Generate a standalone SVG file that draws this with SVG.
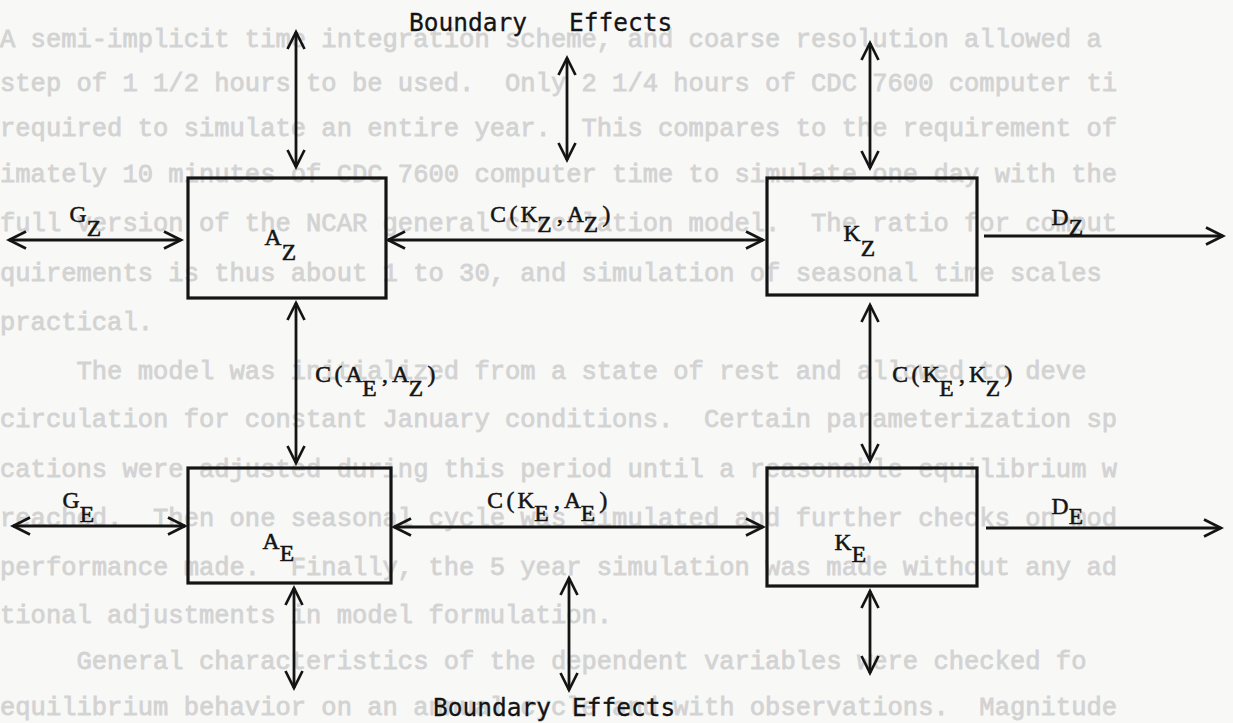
<svg xmlns="http://www.w3.org/2000/svg" width="1233" height="723" viewBox="0 0 1233 723">
  <style>
    .ghost { font-family: "Liberation Mono", "Courier New", monospace; font-size: 25.5px; fill: #d3d3d3; stroke: #d3d3d3; stroke-width: 0.8px; white-space: pre; }
    .lbl { font-family: "Liberation Serif", "Times New Roman", serif; font-size: 23.5px; text-anchor: middle; fill: #141414; stroke: #141414; stroke-width: 0.55px; }
    .bnd { font-family: "DejaVu Sans Mono", monospace; font-size: 24.5px; fill: #141414; stroke: #141414; stroke-width: 0.3px; }
    .box { fill: none; stroke: #141414; stroke-width: 3.2; }
    .con { fill: none; stroke: #141414; stroke-width: 2.8; stroke-linecap: butt; }
  </style>
  <defs>
    <marker id="ah" viewBox="-22 -12 26 24" refX="0" refY="0" markerWidth="26" markerHeight="24" markerUnits="userSpaceOnUse" orient="auto-start-reverse">
      <path d="M-17,-8.5 L0,0 L-17,8.5" fill="none" stroke="#141414" stroke-width="2.7" stroke-linejoin="miter"/>
    </marker>
  </defs>
  <rect x="0" y="0" width="1233" height="723" fill="#f8f8f7"/>

  <g id="show-through">
    <text class="ghost" x="0" y="47">A semi-implicit time integration scheme, and coarse resolution allowed a</text>
    <text class="ghost" x="0" y="91">step of 1 1/2 hours to be used.  Only 2 1/4 hours of CDC 7600 computer ti</text>
    <text class="ghost" x="0" y="136">required to simulate an entire year.  This compares to the requirement of</text>
    <text class="ghost" x="0" y="182">imately 10 minutes of CDC 7600 computer time to simulate one day with the</text>
    <text class="ghost" x="0" y="231">full version of the NCAR general circulation model.  The ratio for comput</text>
    <text class="ghost" x="0" y="281">quirements is thus about 1 to 30, and simulation of seasonal time scales</text>
    <text class="ghost" x="0" y="330">practical.</text>
    <text class="ghost" x="0" y="379">     The model was initialized from a state of rest and allowed to deve</text>
    <text class="ghost" x="0" y="427">circulation for constant January conditions.  Certain parameterization sp</text>
    <text class="ghost" x="0" y="477">cations were adjusted during this period until a reasonable equilibrium w</text>
    <text class="ghost" x="0" y="526">reached.  Then one seasonal cycle was simulated and further checks on mod</text>
    <text class="ghost" x="0" y="575">performance made.  Finally, the 5 year simulation was made without any ad</text>
    <text class="ghost" x="0" y="623">tional adjustments in model formulation.</text>
    <text class="ghost" x="0" y="669">     General characteristics of the dependent variables were checked fo</text>
    <text class="ghost" x="0" y="715">equilibrium behavior on an annual cycle and with observations.  Magnitude</text>
  </g>

  <g id="connectors">
    <line class="con" x1="296" y1="32" x2="296" y2="167" marker-start="url(#ah)" marker-end="url(#ah)"/>
    <line class="con" x1="567" y1="58" x2="567" y2="160" marker-start="url(#ah)" marker-end="url(#ah)"/>
    <line class="con" x1="870" y1="43" x2="870" y2="168" marker-start="url(#ah)" marker-end="url(#ah)"/>
    <line class="con" x1="9" y1="240" x2="181" y2="240" marker-start="url(#ah)" marker-end="url(#ah)"/>
    <line class="con" x1="388" y1="240" x2="763" y2="240" marker-start="url(#ah)" marker-end="url(#ah)"/>
    <line class="con" x1="984" y1="236" x2="1223" y2="236" marker-end="url(#ah)"/>
    <line class="con" x1="296" y1="303" x2="296" y2="463" marker-start="url(#ah)" marker-end="url(#ah)"/>
    <line class="con" x1="870" y1="305" x2="870" y2="461" marker-start="url(#ah)" marker-end="url(#ah)"/>
    <line class="con" x1="13" y1="526" x2="185" y2="526" marker-start="url(#ah)" marker-end="url(#ah)"/>
    <line class="con" x1="394" y1="527" x2="763" y2="527" marker-start="url(#ah)" marker-end="url(#ah)"/>
    <line class="con" x1="986" y1="528" x2="1221" y2="528" marker-end="url(#ah)"/>
    <line class="con" x1="294" y1="588" x2="294" y2="688" marker-start="url(#ah)" marker-end="url(#ah)"/>
    <line class="con" x1="569" y1="578" x2="569" y2="690" marker-start="url(#ah)" marker-end="url(#ah)"/>
    <line class="con" x1="870" y1="591" x2="870" y2="673" marker-start="url(#ah)" marker-end="url(#ah)"/>
  </g>

  <g id="connector-labels">
    <text class="lbl" y="222"><tspan x="78">G</tspan><tspan x="94" dy="14">Z</tspan></text>
    <text class="lbl" y="222"><tspan x="498 513.5 529">C(K</tspan><tspan x="544.5" dy="10">Z</tspan><tspan x="560 575.5" dy="-10">,A</tspan><tspan x="591" dy="10">Z</tspan><tspan x="606.5" dy="-10">)</tspan></text>
    <text class="lbl" y="225"><tspan x="1060">D</tspan><tspan x="1076" dy="10">Z</tspan></text>
    <text class="lbl" y="382"><tspan x="323 338.5 354">C(A</tspan><tspan x="369.5" dy="14">E</tspan><tspan x="385 400.5" dy="-14">,A</tspan><tspan x="416" dy="14">Z</tspan><tspan x="431.5" dy="-14">)</tspan></text>
    <text class="lbl" y="382"><tspan x="900 915.5 931">C(K</tspan><tspan x="946.5" dy="14">E</tspan><tspan x="962 977.5" dy="-14">,K</tspan><tspan x="993" dy="14">Z</tspan><tspan x="1008.5" dy="-14">)</tspan></text>
    <text class="lbl" y="508"><tspan x="71">G</tspan><tspan x="87" dy="14">E</tspan></text>
    <text class="lbl" y="508"><tspan x="495 510.5 526">C(K</tspan><tspan x="541.5" dy="13">E</tspan><tspan x="557 572.5" dy="-13">,A</tspan><tspan x="588" dy="13">E</tspan><tspan x="603.5" dy="-13">)</tspan></text>
    <text class="lbl" y="514"><tspan x="1060">D</tspan><tspan x="1076" dy="10">E</tspan></text>
  </g>

  <g id="boundary-top">
    <text class="bnd" x="409" y="31">Boundary <tspan x="569">Effects</tspan></text>
  </g>
  <g id="boundary-bottom">
    <text class="bnd" x="433" y="716">Boundary <tspan x="572">Effects</tspan></text>
  </g>

  <g id="node-AZ">
    <rect class="box" x="188" y="178" width="198" height="120"/>
    <text class="lbl" y="245"><tspan x="273">A</tspan><tspan x="289" dy="15">Z</tspan></text>
  </g>
  <g id="node-KZ">
    <rect class="box" x="767" y="178" width="210" height="117"/>
    <text class="lbl" y="241"><tspan x="852">K</tspan><tspan x="868" dy="15">Z</tspan></text>
  </g>
  <g id="node-AE">
    <rect class="box" x="188" y="468" width="203" height="115"/>
    <text class="lbl" y="549"><tspan x="271">A</tspan><tspan x="287" dy="12">E</tspan></text>
  </g>
  <g id="node-KE">
    <rect class="box" x="767" y="468" width="210" height="118"/>
    <text class="lbl" y="550"><tspan x="843">K</tspan><tspan x="859" dy="12">E</tspan></text>
  </g>
</svg>
